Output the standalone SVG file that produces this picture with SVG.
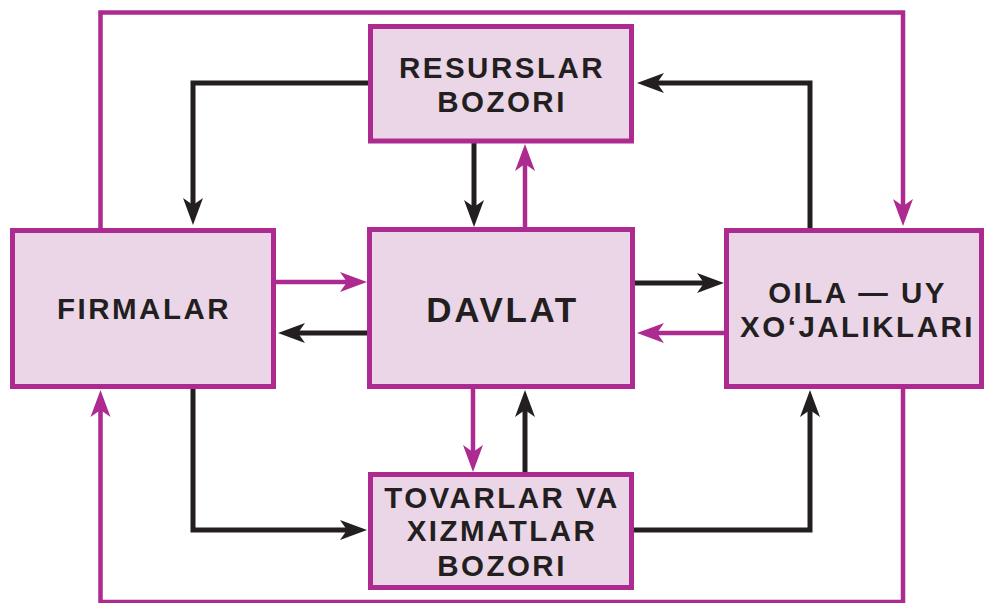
<svg xmlns="http://www.w3.org/2000/svg" width="984" height="603" viewBox="0 0 984 603">
  <style>
    .box { fill: #EBD6E8; stroke: #AD2A91; stroke-width: 5; }
    .lbl { font-family: "Liberation Sans", Arial, Helvetica, sans-serif; font-weight: bold; font-size: 29.5px; fill: #231F20; text-anchor: middle; letter-spacing: 2.5px; }
    .big { font-size: 35px; letter-spacing: 2.6px; }
    .blk { fill: none; stroke: #231F20; stroke-width: 5; }
    .mag { fill: none; stroke: #AD2A91; stroke-width: 4.5; }
  </style>
  <defs>
    <marker id="ab" viewBox="-28 -11 29 22" markerUnits="userSpaceOnUse" markerWidth="29" markerHeight="22" refX="-20" refY="0" orient="auto">
      <path d="M0,0 L-27,-10 L-20,0 L-27,10 Z" fill="#231F20"/>
    </marker>
    <marker id="am" viewBox="-28 -11 29 22" markerUnits="userSpaceOnUse" markerWidth="29" markerHeight="22" refX="-20" refY="0" orient="auto">
      <path d="M0,0 L-27,-10 L-20,0 L-27,10 Z" fill="#AD2A91"/>
    </marker>
  </defs>
  <rect width="984" height="603" fill="#FFFFFF"/>

  <g id="connectors">
    <path class="mag" d="M100.5,228 V12.5 H903 V206" marker-end="url(#am)"/>
    <path class="mag" d="M903,389 V602 H100.5 V410" marker-end="url(#am)"/>
    <path class="blk" d="M368,83 H193 V205" marker-end="url(#ab)"/>
    <path class="blk" d="M810,228 V83 H657" marker-end="url(#ab)"/>
    <path class="blk" d="M474,143 V207" marker-end="url(#ab)"/>
    <path class="mag" d="M525,227 V164" marker-end="url(#am)"/>
    <path class="mag" d="M276,282 H347" marker-end="url(#am)"/>
    <path class="blk" d="M367,333 H298" marker-end="url(#ab)"/>
    <path class="blk" d="M635,283 H704" marker-end="url(#ab)"/>
    <path class="mag" d="M724,333 H657" marker-end="url(#am)"/>
    <path class="mag" d="M473,389 V452" marker-end="url(#am)"/>
    <path class="blk" d="M525,472 V410" marker-end="url(#ab)"/>
    <path class="blk" d="M193,389 V530 H347" marker-end="url(#ab)"/>
    <path class="blk" d="M634,530 H810 V410" marker-end="url(#ab)"/>
  </g>

  <g id="resurslar">
    <rect class="box" x="370.5" y="26.5" width="261" height="114.5"/>
    <text class="lbl" x="502" y="78">RESURSLAR</text>
    <text class="lbl" x="502" y="112">BOZORI</text>
  </g>
  <g id="firmalar">
    <rect class="box" x="12.5" y="230.5" width="261" height="156"/>
    <text class="lbl" x="144" y="319">FIRMALAR</text>
  </g>
  <g id="davlat">
    <rect class="box" x="369.5" y="229.5" width="263" height="157"/>
    <text class="lbl big" x="502.5" y="322">DAVLAT</text>
  </g>
  <g id="oila">
    <rect class="box" x="726.5" y="230.5" width="255" height="156"/>
    <text class="lbl" x="857.5" y="303">OILA — UY</text>
    <text class="lbl" x="857.5" y="337">XO‘JALIKLARI</text>
  </g>
  <g id="tovarlar">
    <rect class="box" x="370.5" y="474.5" width="261" height="113"/>
    <text class="lbl" x="502" y="508">TOVARLAR VA</text>
    <text class="lbl" x="502" y="541">XIZMATLAR</text>
    <text class="lbl" x="502" y="576">BOZORI</text>
  </g>
</svg>
